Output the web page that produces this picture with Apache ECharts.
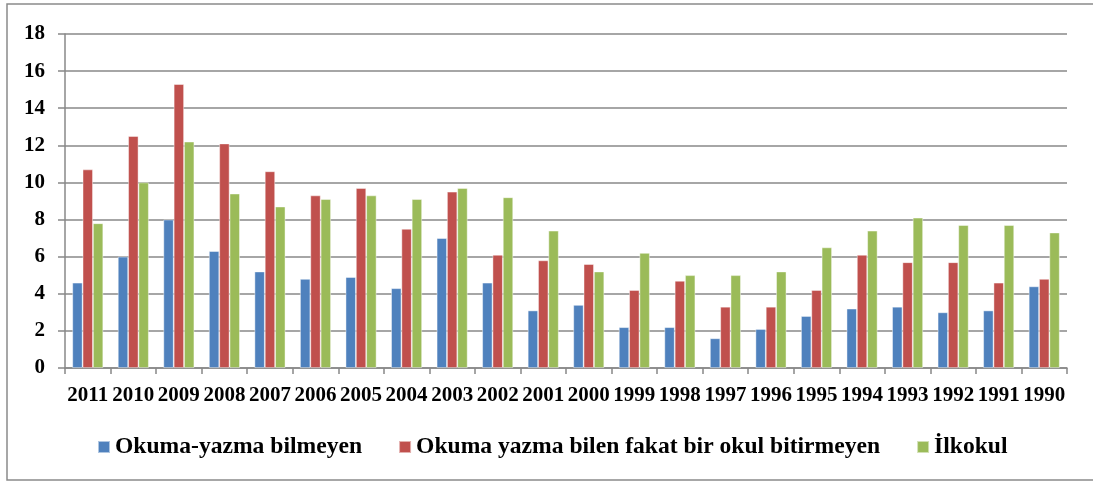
<!DOCTYPE html>
<html lang="tr">
<head>
  <meta charset="UTF-8">
  <title>Okuma-yazma</title>
  <style>
    html, body { margin: 0; padding: 0; background: #fff; }
    #chart { width: 1093px; height: 482px; }
  </style>
</head>
<body>
<div id="chart"></div>
<script src="https://cdn.jsdelivr.net/npm/echarts@6/dist/echarts.min.js"></script>
<script>
  // yıllar (soldan sağa)
  const years = ['2011', '2010', '2009', '2008', '2007', '2006', '2005', '2004', '2003', '2002', '2001',
                 '2000', '1999', '1998', '1997', '1996', '1995', '1994', '1993', '1992', '1991', '1990'];

  const seriesNames = ['Okuma-yazma bilmeyen', 'Okuma yazma bilen fakat bir okul bitirmeyen', 'İlkokul'];

  const okumaYazmaBilmeyen = [4.6, 6.0, 8.0, 6.3, 5.2, 4.8, 4.9, 4.3, 7.0, 4.6, 3.1,
                              3.4, 2.2, 2.2, 1.6, 2.1, 2.8, 3.2, 3.3, 3.0, 3.1, 4.4];
  const okulBitirmeyen = [10.7, 12.5, 15.3, 12.1, 10.6, 9.3, 9.7, 7.5, 9.5, 6.1, 5.8,
                          5.6, 4.2, 4.7, 3.3, 3.3, 4.2, 6.1, 5.7, 5.7, 4.6, 4.8];
  const ilkokul = [7.8, 10.0, 12.2, 9.4, 8.7, 9.1, 9.3, 9.1, 9.7, 9.2, 7.4,
                   5.2, 6.2, 5.0, 5.0, 5.2, 6.5, 7.4, 8.1, 7.7, 7.7, 7.3];

  const colors = ['#4F81BD', '#C0504D', '#9BBB59'];
  const font = '"Liberation Serif", "Times New Roman", serif';

  const chart = echarts.init(document.getElementById('chart'));

  const mkSeries = (name, data, i) => ({
    name: name,
    type: 'bar',
    data: data,
    barGap: '0%',
    barCategoryGap: '32%',
    itemStyle: { color: colors[i], borderColor: 'rgba(255,255,255,0.55)', borderWidth: 0.8 },
    emphasis: { disabled: true }
  });

  chart.setOption({
    animation: false,
    graphic: [{
      type: 'rect',
      shape: { x: 7, y: 4, width: 1120, height: 476 },
      style: { fill: 'none', stroke: '#8a8a8a', lineWidth: 1.5 },
      silent: true
    }],
    grid: { left: 65, right: 26, top: 34, bottom: 114 },
    legend: {
      left: 92,
      top: 430,
      itemWidth: 12,
      itemHeight: 12,
      itemGap: 36,
      icon: 'rect',
      textStyle: { fontFamily: font, fontWeight: 'bold', fontSize: 23.6, color: '#000' },
      data: seriesNames
    },
    xAxis: {
      type: 'category',
      data: years,
      axisLine: { lineStyle: { color: '#888', width: 1.5 } },
      axisTick: { show: true, length: 6, lineStyle: { color: '#888', width: 1.5 } },
      axisLabel: { interval: 0, margin: 17, fontFamily: font, fontWeight: 'bold', fontSize: 21, color: '#000' }
    },
    yAxis: {
      type: 'value',
      min: 0,
      max: 18,
      interval: 2,
      axisLine: { show: true, lineStyle: { color: '#888', width: 1.5 } },
      axisTick: { show: true, length: 7, lineStyle: { color: '#888', width: 1.5 } },
      splitLine: { lineStyle: { color: '#888', width: 1.5 } },
      axisLabel: { margin: 20, fontFamily: font, fontWeight: 'bold', fontSize: 21, color: '#000' }
    },
    series: [
      mkSeries(seriesNames[0], okumaYazmaBilmeyen, 0),
      mkSeries(seriesNames[1], okulBitirmeyen, 1),
      mkSeries(seriesNames[2], ilkokul, 2)
    ]
  });
</script>
</body>
</html>
